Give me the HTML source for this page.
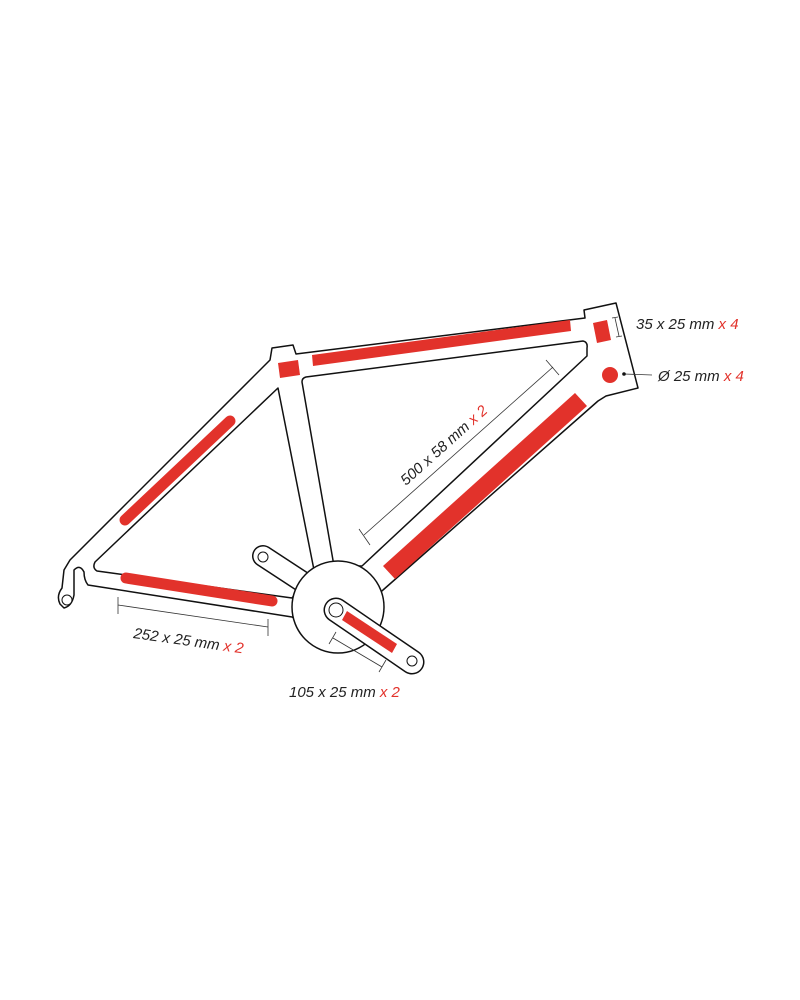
<!DOCTYPE html>
<html><head><meta charset="utf-8"><style>
html,body{margin:0;padding:0;background:#fff;}
svg{display:block}
text{font-family:"Liberation Sans Narrow","Liberation Sans",sans-serif;font-style:italic;font-size:15px;fill:#222}
.r{fill:#e2322b}
</style></head><body>
<svg width="800" height="1000" viewBox="0 0 800 1000" xmlns="http://www.w3.org/2000/svg">
<g stroke="#111" stroke-width="1.5" stroke-linejoin="round">
<path fill="#fff" fill-rule="evenodd" d="M270,360 L272,348 L293,345 L296,354 L585,318 L584,310 L616,303 L638,388 L606,396 L598,401 L383,590 L330,640 L292,617 L88,585 Q84,580 84,572 Q80,564 74,570 L74,595 Q72,606 64,608 L60,604 Q56,596 62,588 L64,570 L70,560 Z
M278,388 L314,570 L292,598 L97,571 Q92,568 95,562 Z
M302,382 Q302,378 306,377 L583,341 Q588,342 587,348 L587,356 L362,566 L334,566 Z"/>
<circle cx="67" cy="600" r="5" fill="#fff" stroke-width="1"/>
<line x1="263" y1="556" x2="318" y2="592" stroke="#111" stroke-width="22" stroke-linecap="round"/>
<line x1="263" y1="556" x2="318" y2="592" stroke="#fff" stroke-width="19" stroke-linecap="round"/>
<circle cx="263" cy="557" r="5" fill="#fff" stroke-width="1"/>
<circle cx="338" cy="607" r="46" fill="#fff"/>
<line x1="336" y1="610" x2="412" y2="662" stroke="#111" stroke-width="25" stroke-linecap="round"/>
<line x1="336" y1="610" x2="412" y2="662" stroke="#fff" stroke-width="22" stroke-linecap="round"/>
<circle cx="336" cy="610" r="7" fill="#fff" stroke-width="1"/>
<circle cx="412" cy="661" r="5" fill="#fff" stroke-width="1"/>
</g>
<g class="r">
<polygon points="278,363 298,360 300,375 280,378"/>
<polygon points="312,355 570,320 571,331 313,366"/>
<polygon points="593,323 607,320 611,340 597,343"/>
<circle cx="610" cy="375" r="8"/>
<polygon points="575,393 587,406 395,579 383,566"/>
<line x1="230" y1="421" x2="125" y2="520" stroke="#e2322b" stroke-width="11" stroke-linecap="round"/>
<line x1="126" y1="578" x2="272" y2="601" stroke="#e2322b" stroke-width="11" stroke-linecap="round"/>
<polygon points="347,611 397,644 392,653 342,620"/>
</g>
<g stroke="#333" stroke-width="0.8" fill="none">
<line x1="364" y1="535" x2="553" y2="367"/>
<line x1="359" y1="529" x2="370" y2="545"/><line x1="546" y1="360" x2="559" y2="375"/>
<line x1="118" y1="605" x2="268" y2="627"/>
<line x1="118" y1="597" x2="118" y2="614"/><line x1="268" y1="619" x2="268" y2="636"/>
<line x1="333" y1="638" x2="382" y2="667"/>
<line x1="329" y1="644" x2="336" y2="632"/><line x1="379" y1="672" x2="386" y2="660"/>
<line x1="615" y1="318" x2="619" y2="336"/><line x1="612" y1="318" x2="618" y2="317"/><line x1="616" y1="337" x2="622" y2="336"/>
<line x1="624" y1="374" x2="652" y2="375"/>
</g>
<circle cx="624" cy="374" r="1.8" fill="#111"/>
<text x="636" y="329">35 x 25 mm <tspan class="r">x 4</tspan></text>
<text x="658" y="381">Ø 25 mm <tspan class="r">x 4</tspan></text>
<text transform="translate(406,486) rotate(-42)">500 x 58 mm <tspan class="r">x 2</tspan></text>
<text transform="translate(133,638) rotate(8)">252 x 25 mm <tspan class="r">x 2</tspan></text>
<text x="289" y="697">105 x 25 mm <tspan class="r">x 2</tspan></text>
</svg>
</body></html>
